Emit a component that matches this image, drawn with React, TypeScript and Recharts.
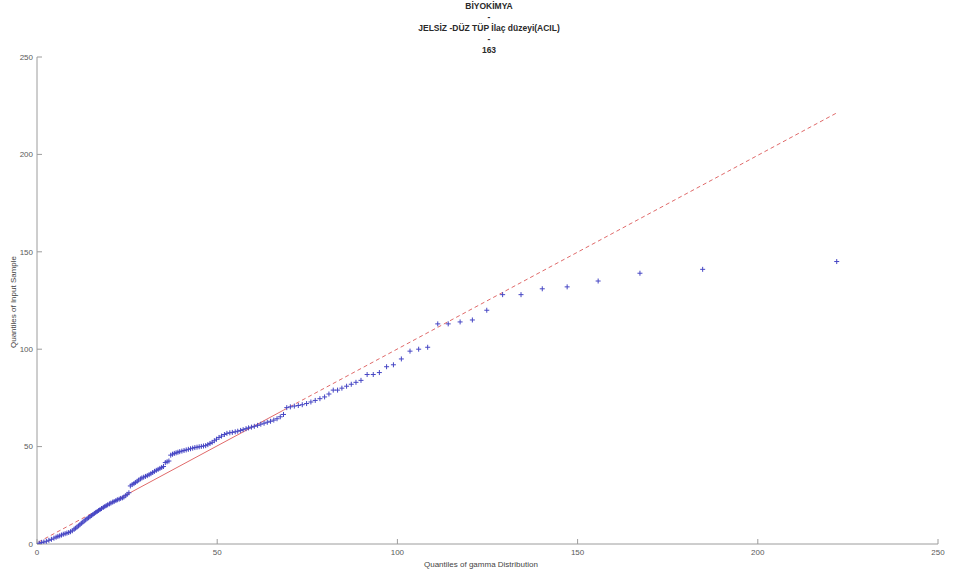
import { ScatterChart, Scatter, XAxis, YAxis, ReferenceLine } from 'recharts';

// theoretical gamma quantiles (x) against sorted sample values (y)
const quantX = [
  0.6, 1.3, 1.9, 2.6, 3.3, 4.0, 4.7,
  5.3, 5.8, 6.3, 6.8, 7.3, 7.8, 8.3, 8.8, 9.3, 9.8,
  10.3, 10.7, 11.1, 11.5, 11.9, 12.3, 12.7, 13.1, 13.5, 13.9, 14.3, 14.7, 15.1, 15.5, 15.9, 16.3, 16.7, 17.1, 17.5, 17.9, 18.4, 18.8, 19.2, 19.6,
  20.1, 20.5, 21.0, 21.4, 21.9, 22.3, 22.8, 23.2, 23.7, 24.1, 24.6, 25.0, 25.5, 25.9, 26.4, 26.9, 27.3, 27.8, 28.2, 28.7, 29.1, 29.6,
  30.1, 30.6, 31.1, 31.6, 32.1, 32.6, 33.1, 33.6, 34.1, 34.6, 35.1, 35.6, 36.1, 36.6, 37.1, 37.6, 38.1, 38.6, 39.1, 39.6,
  40.2, 40.8, 41.4, 42.0, 42.6, 43.2, 43.8, 44.4, 45.0, 45.6, 46.2, 46.8, 47.4, 48.0, 48.6, 49.2, 49.8,
  50.5, 51.2, 52.0, 52.7, 53.5, 54.2, 55.0, 55.7, 56.5, 57.2, 58.0, 58.7, 59.5,
  60.3, 61.2, 62.1, 63.0, 63.9, 64.8, 65.7, 66.6, 67.5, 68.4, 69.3,
  70.3, 71.4, 72.5, 73.6, 74.8, 76.0, 77.2, 78.5, 79.8,
  81.0, 82.2, 83.4, 84.6, 85.9, 87.2, 88.5, 89.9, 91.6, 93.3, 95.0, 97.0, 98.9, 101.1, 103.5, 105.9, 108.4,
  111.2, 114.1, 117.4, 120.8, 124.8, 129.2, 134.3, 140.2, 147.1, 155.7, 167.3, 184.7, 221.9,
];

const sampleY = [
  0.4, 0.8, 1.0, 1.4, 1.9, 2.4, 3.0,
  3.5, 3.9, 4.2, 4.6, 5.0, 5.3, 5.6, 5.9, 6.3, 6.8,
  7.6, 8.1, 8.7, 9.3, 9.9, 10.6, 11.2, 11.8, 12.4, 13.0, 13.5, 14.0, 14.6, 15.1, 15.7, 16.2, 16.7, 17.2, 17.7, 18.2, 18.8, 19.2, 19.7, 20.1,
  20.6, 21.0, 21.5, 21.8, 22.3, 22.7, 23.0, 23.4, 23.7, 24.1, 24.8, 25.5, 26.3, 29.8, 30.5, 31.0, 31.6, 32.2, 32.8, 33.4, 33.9, 34.3,
  34.7, 35.1, 35.6, 36.1, 36.7, 37.3, 37.8, 38.3, 38.8, 39.3, 39.8, 41.8, 42.2, 42.6, 45.6, 46.1, 46.5, 46.8, 47.1, 47.4,
  47.7, 48.0, 48.3, 48.6, 48.9, 49.2, 49.5, 49.7, 49.9, 50.1, 50.3, 50.5, 51.0, 51.6, 52.2, 53.0, 53.8,
  54.7, 55.4, 56.2, 56.8, 57.1, 57.3, 57.6, 57.9, 58.3, 58.7, 59.2, 59.6, 60.0,
  60.4, 60.9, 61.5, 62.0, 62.5, 63.0, 63.6, 64.3, 65.3, 66.5, 70.0,
  70.4, 70.8, 71.1, 71.5, 72.1, 72.9, 73.7, 74.6, 75.5,
  77, 79, 79, 80, 81, 82, 83, 84, 87, 87, 88, 91, 92, 95, 99, 100, 101,
  113, 113, 114, 115, 120, 128, 128, 131, 132, 135, 139, 141, 145,
];

// fitted reference line: dashed tails, solid between the quartiles
const fitX = [0.4, 20.1, 68.4, 221.9];
const fitY = [1.0, 20.6, 68.7, 221.3];

const axisTicks = [0, 50, 100, 150, 200, 250];
const titleLines = ['BİYOKİMYA', '-', 'JELSİZ -DÜZ TÜP İlaç düzeyi(ACIL)', '-', '163'];

const points = quantX.map((x, i) => ({ x, y: sampleY[i] }));

const FONT = '"Liberation Sans", Arial, Helvetica, sans-serif';
const AXIS = '#9c9c9c';

function PlusMarker(props: any) {
  const { cx, cy } = props;
  if (cx == null || cy == null) return null;
  return (
    <g stroke="#4646c4" strokeWidth={1}>
      <line x1={cx - 2.5} y1={cy} x2={cx + 2.5} y2={cy} />
      <line x1={cx} y1={cy - 2.5} x2={cx} y2={cy + 2.5} />
    </g>
  );
}

export default function App() {
  return (
    <div
      style={{
        position: 'absolute',
        left: 0,
        top: 0,
        width: 953,
        height: 581,
        background: '#fff',
        fontFamily: FONT,
      }}
    >
      <div
        style={{
          position: 'absolute',
          left: 0,
          top: 0.5,
          width: 978,
          textAlign: 'center',
          fontSize: 8.5,
          lineHeight: '11px',
          fontWeight: 'bold',
          color: '#2a2a2a',
        }}
      >
        {titleLines.map((t, i) => (
          <div key={i}>{t}</div>
        ))}
      </div>

      <ScatterChart
        width={953}
        height={581}
        margin={{ top: 57, right: 15, bottom: 7, left: 7 }}
        style={{ fontFamily: FONT }}
      >
        <XAxis
          type="number"
          dataKey="x"
          domain={[0, 250]}
          ticks={axisTicks}
          allowDataOverflow
          height={30}
          stroke={AXIS}
          tickSize={-5}
          tickMargin={10}
          tick={{ fill: '#5a5a5a', fontSize: 8 }}
        />
        <YAxis
          type="number"
          dataKey="y"
          domain={[0, 250]}
          ticks={axisTicks}
          allowDataOverflow
          width={30}
          stroke={AXIS}
          tickSize={-5}
          tickMargin={9}
          tick={{ fill: '#5a5a5a', fontSize: 8 }}
        />
        <ReferenceLine
          segment={[{ x: fitX[0], y: fitY[0] }, { x: fitX[1], y: fitY[1] }]}
          stroke="#e06a6a"
          strokeDasharray="4 3"
          ifOverflow="visible"
        />
        <ReferenceLine
          segment={[{ x: fitX[1], y: fitY[1] }, { x: fitX[2], y: fitY[2] }]}
          stroke="#e06a6a"
          ifOverflow="visible"
        />
        <ReferenceLine
          segment={[{ x: fitX[2], y: fitY[2] }, { x: fitX[3], y: fitY[3] }]}
          stroke="#e06a6a"
          strokeDasharray="4 3"
          ifOverflow="visible"
        />
        <Scatter data={points} shape={PlusMarker} isAnimationActive={false} />
      </ScatterChart>

      <div
        style={{
          position: 'absolute',
          left: 424,
          top: 560,
          fontSize: 8,
          color: '#444',
          whiteSpace: 'nowrap',
        }}
      >
        Quantiles of gamma Distribution
      </div>
      <div
        style={{
          position: 'absolute',
          left: 13,
          top: 302,
          fontSize: 8,
          color: '#444',
          whiteSpace: 'nowrap',
          transform: 'translate(-50%, -50%) rotate(-90deg)',
        }}
      >
        Quantiles of Input Sample
      </div>
    </div>
  );
}
